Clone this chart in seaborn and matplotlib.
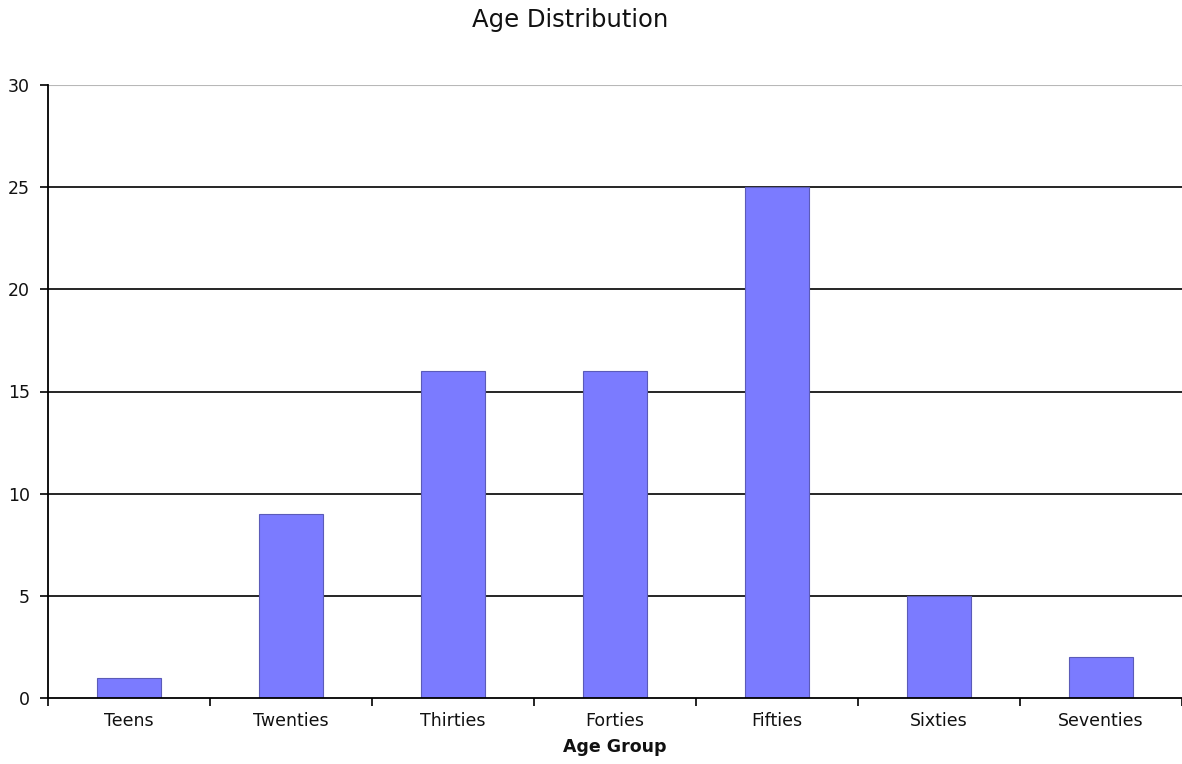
import matplotlib
matplotlib.use("Agg")
import matplotlib.pyplot as plt
import seaborn as sns
import pandas as pd

categories = ["Teens", "Twenties", "Thirties", "Forties", "Fifties", "Sixties", "Seventies"]
counts = [1, 9, 16, 16, 25, 5, 2]
y_ticks = [0, 5, 10, 15, 20, 25, 30]

df = pd.DataFrame({"Age Group": categories, "Count": counts})

sns.set_theme(style="white")
plt.rcParams["font.family"] = ["DejaVu Sans"]

fig = plt.figure(figsize=(11.82, 7.64), dpi=100)
ax = fig.add_axes([48 / 1182, 66 / 764, 1134 / 1182, 613 / 764])

sns.barplot(data=df, x="Age Group", y="Count", ax=ax, color="#7b7bff",
            saturation=1, width=0.4, edgecolor="#5b5bb8", linewidth=0.8, zorder=3)

ax.set_xlim(-0.5, len(categories) - 0.5)
ax.set_ylim(0, 30)
ax.set_yticks(y_ticks)
ax.set_yticklabels([str(t) for t in y_ticks], fontsize=12.5, color="#111111")

# gridlines drawn as black rules, top edge in light gray
for t in y_ticks[1:-1]:
    ax.axhline(t, color="black", lw=1.2, zorder=1)
ax.axhline(30, color="#b8b8b8", lw=1.5, zorder=1)

ax.set_xticks(range(len(categories)))
ax.set_xticklabels(categories, fontsize=12.5, color="#111111")
ax.tick_params(axis="x", length=0, pad=10)
# tick marks between categories
ax.set_xticks([i - 0.5 for i in range(len(categories) + 1)], minor=True)
ax.tick_params(axis="x", which="minor", length=6, width=1.2, color="black", direction="out", bottom=True)
ax.tick_params(axis="y", length=6, width=1.2, color="black", direction="out", left=True, pad=7)

for side in ["top", "right"]:
    ax.spines[side].set_visible(False)
ax.spines["left"].set_color("black")
ax.spines["left"].set_linewidth(1.3)
ax.spines["bottom"].set_color("black")
ax.spines["bottom"].set_linewidth(1.3)
ax.spines["left"].set_zorder(4)
ax.spines["bottom"].set_zorder(4)

ax.set_ylabel("")
ax.set_xlabel("Age Group", fontsize=12.5, fontweight="bold", color="#111111", labelpad=6)
fig.text(570 / 1182, 1 - 20 / 764, "Age Distribution", ha="center", va="center",
         fontsize=17.5, color="#111111")

fig.savefig("out.png", dpi=100, facecolor="white")
